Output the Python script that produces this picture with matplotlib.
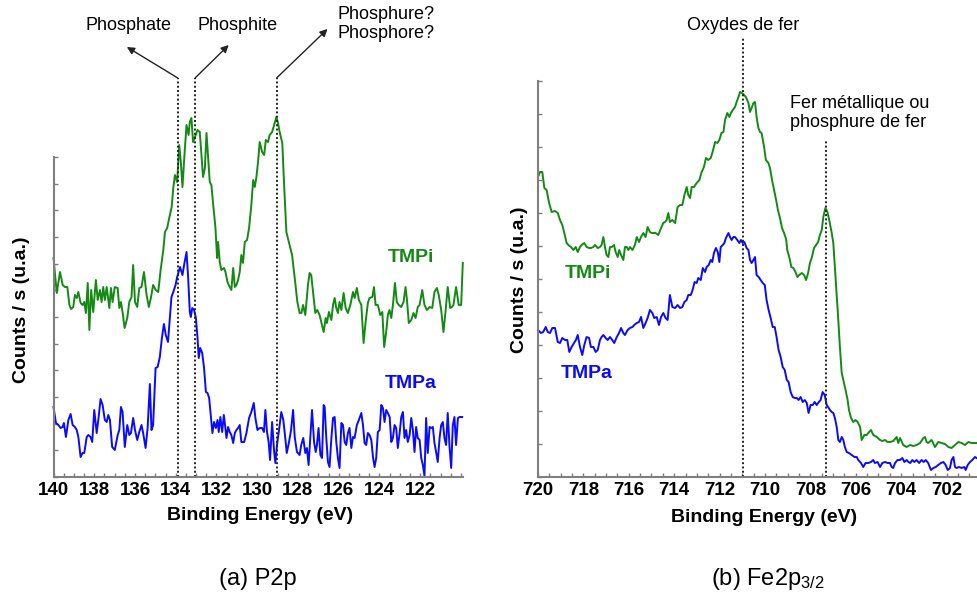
import matplotlib
matplotlib.use("Agg")
import matplotlib.pyplot as plt
from matplotlib.ticker import MultipleLocator, FixedLocator, NullFormatter

plt.rcParams['font.family'] = ['Liberation Sans', 'DejaVu Sans']
plt.rcParams['mathtext.fontset'] = 'custom'
plt.rcParams['mathtext.rm'] = 'Liberation Sans'
plt.rcParams['mathtext.it'] = 'Liberation Sans:italic'

# ---------------- data (binding energy eV, counts a.u.) ----------------
P2P_TMPI = [(140.00,219),(139.84,184),(139.68,205),(139.55,192),(139.44,190),(139.32,190),(139.22,172),(139.14,168),(139.03,170),(138.95,182),(138.86,179),(138.78,185),(138.67,174),(138.57,172),(138.49,175),(138.41,164),(138.32,194),(138.24,147),(138.15,187),(138.05,165),(137.92,197),(137.83,177),(137.72,187),(137.64,175),(137.56,190),(137.48,177),(137.39,190),(137.26,169),(137.18,189),(137.10,175),(136.99,190),(136.85,189),(136.77,169),(136.69,175),(136.61,165),(136.51,149),(136.38,159),(136.28,175),(136.17,180),(136.09,212),(136.00,175),(135.89,170),(135.79,189),(135.68,190),(135.56,205),(135.43,182),(135.32,170),(135.22,179),(135.11,192),(134.98,187),(134.86,185),(134.73,209),(134.61,227),(134.53,245),(134.42,249),(134.32,259),(134.20,270),(134.12,289),(134.04,302),(133.93,295),(133.83,332),(133.75,315),(133.67,290),(133.55,329),(133.47,352),(133.37,342),(133.31,355),
            (133.23,359),(133.15,335),(133.06,340),(132.93,347),(132.82,345),(132.74,322),(132.66,300),(132.57,309),(132.49,344),(132.41,319),(132.33,295),(132.25,292),(132.16,272),(132.05,249),(131.97,219),(131.92,235),(131.84,215),(131.76,207),(131.63,209),(131.56,205),(131.46,195),(131.35,190),(131.27,187),(131.18,209),(131.10,190),(131.02,192),(130.94,197),(130.86,205),(130.78,222),(130.70,214),(130.61,235),(130.50,237),(130.40,249),(130.29,272),(130.20,297),(130.12,290),(130.04,300),(129.96,315),(129.88,335),(129.76,325),(129.66,322),(129.58,337),(129.47,335),(129.39,342),(129.27,345),(129.17,352),(129.06,360),(128.98,354),(128.90,345),(128.77,334),(128.68,292),(128.57,245),(128.41,232),(128.29,222),(128.16,199),(128.03,175),(127.92,164),(127.83,164),(127.75,172),(127.64,162),(127.51,192),(127.43,204),(127.35,202),(127.26,185),(127.15,164),(127.05,167),(126.94,162),(126.82,152),(126.74,145),
            (126.64,159),(126.58,154),(126.48,165),(126.36,157),(126.28,172),(126.20,179),(126.12,169),(126.04,164),(125.96,175),(125.87,167),(125.76,184),(125.66,169),(125.55,164),(125.43,172),(125.30,185),(125.22,179),(125.11,189),(125.01,177),(124.89,172),(124.78,134),(124.68,155),(124.57,174),(124.49,179),(124.35,180),(124.27,190),(124.19,172),(124.08,172),(123.96,162),(123.86,165),(123.77,130),(123.67,145),(123.59,162),(123.51,167),(123.42,159),(123.34,172),(123.24,194),(123.15,175),(123.05,172),(122.93,170),(122.82,175),(122.72,190),(122.65,177),(122.56,154),(122.44,157),(122.33,164),(122.23,159),(122.12,170),(122.03,172),(121.90,187),(121.79,172),(121.67,167),(121.54,170),(121.41,169),(121.30,185),(121.18,189),(121.09,182),(120.97,167),(120.86,145),(120.76,165),(120.65,190),(120.53,169),(120.45,170),(120.37,172),(120.24,190),(120.11,172),(119.99,172),(119.91,214)]

P2P_TMPA = [(140.00,70),(139.88,54),(139.76,52),(139.65,49),(139.55,50),(139.49,54),(139.39,40),(139.27,57),(139.16,63),(139.06,52),(138.95,50),(138.86,47),(138.78,40),(138.67,20),(138.57,24),(138.49,24),(138.37,40),(138.29,42),(138.18,40),(138.10,35),(138.00,67),(137.88,44),(137.80,57),(137.69,78),(137.59,72),(137.48,57),(137.39,55),(137.31,62),(137.23,57),(137.12,30),(136.99,27),(136.85,42),(136.77,47),(136.69,70),(136.61,65),(136.50,30),(136.38,52),(136.28,42),(136.20,44),(136.09,59),(136.00,47),(135.89,37),(135.79,45),(135.68,52),(135.60,44),(135.48,29),(135.38,49),(135.27,93),(135.19,47),(135.11,52),(134.99,109),(134.89,110),(134.78,120),(134.68,139),(134.58,153),(134.49,142),(134.38,135),(134.29,159),(134.21,180),(134.12,185),(134.01,192),(133.93,200),(133.79,210),(133.67,202),(133.59,212),(133.47,225),(133.39,199),(133.31,165),
            (133.26,160),(133.19,169),(133.10,167),(133.01,159),(132.93,139),(132.87,119),(132.80,129),(132.70,124),(132.61,109),(132.52,85),(132.44,84),(132.36,79),(132.28,62),(132.20,44),(132.12,55),(132.03,49),(131.95,57),(131.89,45),(131.81,60),(131.72,45),(131.64,62),(131.58,52),(131.51,39),(131.43,50),(131.35,45),(131.27,42),(131.18,34),(131.10,44),(131.02,47),(130.94,49),(130.86,52),(130.78,35),(130.64,35),(130.53,44),(130.40,59),(130.29,65),(130.17,74),(130.09,59),(129.99,47),(129.88,49),(129.76,49),(129.67,45),(129.60,67),(129.52,45),(129.44,35),(129.37,17),(129.27,55),(129.17,25),(129.11,14),(129.03,32),(128.93,47),(128.82,65),(128.72,57),(128.65,44),(128.55,24),(128.44,35),(128.34,47),(128.24,67),(128.16,40),(128.05,25),(127.92,22),(127.84,32),(127.74,39),(127.64,24),(127.56,29),(127.48,12),(127.39,42),(127.31,67),(127.21,35),(127.13,25),(127.07,32),(126.99,49),(126.90,22),(126.82,19),(126.74,72),
            (126.69,70),(126.61,39),(126.53,15),(126.45,10),(126.36,39),(126.28,59),(126.20,60),(126.12,35),(126.04,19),(125.96,9),(125.87,54),(125.79,52),(125.71,35),(125.63,32),(125.55,44),(125.47,49),(125.38,29),(125.30,40),(125.22,39),(125.11,52),(125.01,57),(124.89,64),(124.81,52),(124.73,34),(124.65,32),(124.57,44),(124.49,42),(124.40,37),(124.32,20),(124.24,10),(124.16,19),(124.08,45),(123.99,47),(123.91,72),(123.83,69),(123.75,55),(123.67,67),(123.59,64),(123.50,60),(123.42,35),(123.34,39),(123.26,52),(123.18,49),(123.10,29),(123.01,44),(122.93,60),(122.85,65),(122.77,39),(122.69,47),(122.61,35),(122.52,42),(122.44,59),(122.36,47),(122.28,25),(122.20,50),(122.12,39),(122.03,37),(121.95,19),(121.87,12),(121.79,1),(121.71,59),(121.63,24),(121.54,50),(121.46,49),(121.38,50),(121.30,34),(121.22,25),(121.14,15),(121.05,39),(120.97,52),(120.89,55),(120.81,39),(120.73,32),(120.65,64),(120.56,30),(120.48,9),(120.40,52),(120.32,60),(120.24,32),(120.15,59),(120.07,60),(119.94,60)]

FE_TMPI = [(720.00,300),(719.91,305),(719.81,305),(719.72,289),(719.62,287),(719.52,275),(719.40,265),(719.25,266),(719.13,264),(719.03,257),(718.93,252),(718.84,244),(718.74,234),(718.66,232),(718.55,230),(718.44,227),(718.34,230),(718.25,225),(718.15,230),(718.08,232),(717.96,234),(717.86,230),(717.75,229),(717.67,229),(717.56,230),(717.49,232),(717.37,229),(717.27,230),(717.20,232),(717.12,240),(717.05,230),(716.98,222),(716.90,220),(716.83,230),(716.75,230),(716.65,232),(716.58,225),(716.49,220),(716.42,227),(716.34,222),(716.24,217),(716.17,230),(716.09,230),(716.02,227),(715.95,230),(715.84,227),(715.73,232),(715.65,240),(715.55,235),(715.46,240),(715.36,244),(715.26,240),(715.17,250),(715.07,245),(714.99,244),(714.92,244),(714.82,244),(714.70,242),(714.58,249),(714.48,254),(714.41,255),(714.33,257),(714.26,264),(714.19,255),(714.08,257),(713.96,254),(713.85,270),(713.74,272),(713.64,272),(713.55,282),
           (713.45,290),(713.38,282),(713.30,279),(713.23,290),(713.13,290),(713.01,294),(712.89,297),(712.79,305),(712.69,310),(712.60,319),(712.50,317),(712.39,319),(712.31,325),(712.20,335),(712.10,334),(712.01,337),(711.92,344),(711.83,345),(711.76,357),(711.66,364),(711.57,360),(711.50,364),(711.42,367),(711.32,370),(711.25,375),(711.17,380),(711.10,385),(711.01,384),(710.92,382),(710.84,380),(710.73,374),(710.66,365),(710.59,369),(710.51,374),(710.44,375),(710.37,360),(710.29,349),(710.22,345),(710.15,344),(710.04,330),(709.96,317),(709.85,314),(709.78,309),(709.69,297),(709.60,287),(709.51,277),(709.43,267),(709.34,259),(709.25,249),(709.16,244),(709.07,238),(709.02,227),(708.93,220),(708.84,210),(708.75,209),(708.66,205),(708.57,200),(708.49,202),(708.38,204),(708.28,202),(708.19,197),(708.10,204),(708.02,214),(707.93,220),(707.84,229),(707.75,232),(707.66,235),(707.58,242),(707.50,247),(707.43,260),(707.34,269),(707.25,265),(707.17,257),
           (707.06,244),(706.99,234),(706.92,210),(706.84,184),(706.77,157),(706.70,130),(706.62,104),(706.55,97),(706.45,87),(706.36,77),(706.30,67),(706.21,59),(706.11,55),(706.01,57),(705.92,55),(705.81,50),(705.74,37),(705.62,42),(705.52,42),(705.45,44),(705.33,47),(705.23,42),(705.08,40),(704.93,37),(704.83,36),(704.71,37),(704.60,35),(704.49,35),(704.35,36),(704.20,40),(704.13,34),(704.05,39),(703.91,32),(703.76,30),(703.61,32),(703.47,31),(703.32,32),(703.17,34),(703.02,39),(702.95,40),(702.88,35),(702.81,34),(702.66,37),(702.51,30),(702.37,35),(702.22,34),(702.07,33),(701.92,30),(701.78,29),(701.63,32),(701.48,35),(701.34,34),(701.19,32),(701.04,35),(700.90,34),(700.68,34)]

FE_TMPA = [(720.00,147),(719.87,144),(719.77,145),(719.66,150),(719.57,145),(719.47,144),(719.37,149),(719.25,149),(719.13,135),(719.03,134),(718.93,139),(718.81,137),(718.71,137),(718.62,125),(718.52,130),(718.41,134),(718.33,137),(718.25,142),(718.15,130),(718.05,122),(717.96,132),(717.86,140),(717.75,139),(717.67,130),(717.56,130),(717.46,125),(717.37,127),(717.27,137),(717.20,140),(717.12,142),(717.02,139),(716.93,137),(716.83,140),(716.73,137),(716.64,134),(716.53,140),(716.43,144),(716.34,149),(716.24,144),(716.17,142),(716.05,147),(715.95,149),(715.84,150),(715.76,152),(715.65,154),(715.55,155),(715.46,160),(715.36,149),(715.26,154),(715.17,159),(715.07,167),(714.96,164),(714.88,159),(714.77,160),(714.67,152),(714.58,160),(714.48,164),(714.38,159),(714.29,157),(714.19,182),(714.08,170),(713.96,169),(713.85,172),(713.74,169),(713.64,170),(713.55,175),
           (713.45,177),(713.38,182),(713.27,182),(713.19,187),(713.10,195),(713.01,194),(712.94,199),(712.83,197),(712.74,209),(712.64,205),(712.57,210),(712.48,212),(712.39,217),(712.32,215),(712.25,224),(712.16,229),(712.08,225),(712.01,215),(711.95,230),(711.86,232),(711.79,234),(711.72,239),(711.61,244),(711.54,240),(711.47,237),(711.39,240),(711.32,240),(711.22,237),(711.13,234),(711.06,237),(710.98,234),(710.91,235),(710.81,229),(710.73,227),(710.66,217),(710.59,214),(710.51,217),(710.44,220),(710.37,202),(710.28,200),(710.19,197),(710.10,194),(710.01,192),(709.93,177),(709.84,167),(709.75,159),(709.66,150),(709.57,150),(709.49,140),(709.40,127),(709.31,120),(709.22,110),(709.13,107),(709.04,97),(708.96,95),(708.87,85),(708.78,80),(708.69,79),(708.60,79),(708.52,77),(708.43,80),(708.34,75),(708.25,77),(708.16,74),(708.08,64),(707.99,72),(707.90,72),(707.81,75),(707.72,72),(707.63,75),(707.55,77),(707.46,85),(707.37,82),(707.28,72),(707.19,69),(707.14,67),
           (707.06,65),(706.99,64),(706.92,59),(706.84,50),(706.77,37),(706.70,35),(706.62,40),(706.55,37),(706.48,30),(706.40,25),(706.30,24),(706.18,22),(706.06,20),(705.96,20),(705.89,17),(705.77,14),(705.67,10),(705.57,14),(705.45,14),(705.33,15),(705.23,17),(705.16,14),(705.04,15),(704.93,10),(704.83,14),(704.71,15),(704.60,14),(704.49,14),(704.42,10),(704.35,9),(704.27,14),(704.16,17),(704.05,17),(703.95,19),(703.86,15),(703.76,17),(703.68,15),(703.60,14),(703.51,17),(703.42,15),(703.32,17),(703.21,14),(703.10,17),(703.01,15),(702.92,17),(702.81,14),(702.69,7),(702.58,9),(702.48,10),(702.37,12),(702.25,14),(702.14,15),(702.04,12),(701.95,7),(701.85,9),(701.78,17),(701.70,20),(701.63,10),(701.56,9),(701.45,10),(701.34,9),(701.22,10),(701.16,7),(701.07,12),(700.97,15),(700.87,17),(700.75,20),(700.68,19)]

P2P_LINES = [133.9, 133.05, 129.05]          # dotted reference energies
P2P_LABELS = ['Phosphate', 'Phosphite', 'Phosphure?\nPhosphore?']
FE_LINES = [710.95, 707.3]
FE_LABELS = ['Oxydes de fer', 'Fer métallique ou\nphosphure de fer']
P2P_XTICKS = [140, 138, 136, 134, 132, 130, 128, 126, 124, 122]
FE_XTICKS = [720, 718, 716, 714, 712, 710, 708, 706, 704, 702]
SERIES = ['TMPi', 'TMPa']

GREEN = '#138a13'
BLUE = '#0a0aff'
GRAY = '#7f7f7f'

W, H = 977, 597
fig = plt.figure(figsize=(W / 100, H / 100), dpi=100)


def px_axes(l, r, b, t):
    return fig.add_axes([l / W, 1 - b / H, (r - l) / W, (b - t) / H])


def ftext(x, y, s, **kw):
    fig.text(x / W, 1 - y / H, s, **kw)


def style(ax, xlim, xticks, spine_top):
    ax.set_xlim(*xlim)
    ax.set_ylim(0, 477)
    for s in ['top', 'right']:
        ax.spines[s].set_visible(False)
    for s in ['left', 'bottom']:
        ax.spines[s].set_color(GRAY)
        ax.spines[s].set_linewidth(1.5)
    ax.spines['left'].set_bounds(0, spine_top)
    ax.xaxis.set_major_locator(FixedLocator(xticks))
    ax.xaxis.set_minor_locator(MultipleLocator(0.5))
    ax.set_xticklabels([str(t) for t in xticks], fontsize=13.5, fontweight='bold')
    ax.yaxis.set_major_locator(FixedLocator([spine_top * i / 12 for i in range(13)]))
    ax.yaxis.set_major_formatter(NullFormatter())
    ax.tick_params(axis='both', which='both', direction='in', color=GRAY, length=3, width=1)
    ax.tick_params(axis='x', which='major', pad=3.5)
    ax.patch.set_visible(False)


def unzip(pairs):
    return [p[0] for p in pairs], [p[1] for p in pairs]


# ---------------- (a) P2p ----------------
axL = px_axes(53.5, 463, 477, 0)
style(axL, (140, 119.9), P2P_XTICKS, 320)
for pairs, col in [(P2P_TMPI, GREEN), (P2P_TMPA, BLUE)]:
    e, c = unzip(pairs)
    axL.plot(e, c, color=col, lw=1.4, clip_on=False)
for e in P2P_LINES:
    axL.plot([e, e], [0, 399], color='#222222', lw=1.4, ls=(0, (1, 1.2)))
arrow_ends = [(136.4, 430), (131.4, 432), (126.55, 448)]
text_pos = [(136.3, 451), (130.95, 451), (123.7, 453)]
for e, (ax_, ay_), (tx, ty), lab in zip(P2P_LINES, arrow_ends, text_pos, P2P_LABELS):
    axL.annotate('', xy=(ax_, ay_), xytext=(e, 399),
                 arrowprops=dict(arrowstyle='-|>', color='#222222', lw=1.0,
                                 mutation_scale=11, shrinkA=0, shrinkB=0))
    axL.text(tx, ty, lab, ha='center', va='center', fontsize=13,
             linespacing=1.22)
ftext(411, 257, SERIES[0], color=GREEN, fontsize=14, fontweight='bold', ha='center', va='center')
ftext(411, 383, SERIES[1], color=BLUE, fontsize=14, fontweight='bold', ha='center', va='center')
ftext(260, 516, 'Binding Energy (eV)', fontsize=14, fontweight='bold', ha='center', va='center')
ftext(22, 310, 'Counts / s (u.a.)', fontsize=14, fontweight='bold', ha='center', va='center', rotation=90)
ftext(258, 579, '(a) P2p', fontsize=17, ha='center', va='center')

# ---------------- (b) Fe2p3/2 ----------------
axR = px_axes(538, 977, 477, 0)
style(axR, (720, 700.66), FE_XTICKS, 396)
for pairs, col in [(FE_TMPI, GREEN), (FE_TMPA, BLUE)]:
    e, c = unzip(pairs)
    axR.plot(e, c, color=col, lw=1.4, clip_on=False)
for e, top in zip(FE_LINES, [440, 337]):
    axR.plot([e, e], [0, top], color='#222222', lw=1.4, ls=(0, (1, 1.2)))
axR.text(710.95, 452, FE_LABELS[0], ha='center', va='center', fontsize=13)
axR.text(708.9, 364, FE_LABELS[1], ha='left', va='center', fontsize=13, linespacing=1.22)
ftext(588, 273, SERIES[0], color=GREEN, fontsize=14, fontweight='bold', ha='center', va='center')
ftext(587, 373, SERIES[1], color=BLUE, fontsize=14, fontweight='bold', ha='center', va='center')
ftext(764, 517, 'Binding Energy (eV)', fontsize=14, fontweight='bold', ha='center', va='center')
ftext(520, 280, 'Counts / s (u.a.)', fontsize=14, fontweight='bold', ha='center', va='center', rotation=90)
ftext(711, 579, r'(b) Fe2p$_{\mathrm{3/2}}$', fontsize=17, ha='left', va='center')

fig.savefig('out.png', dpi=100)
